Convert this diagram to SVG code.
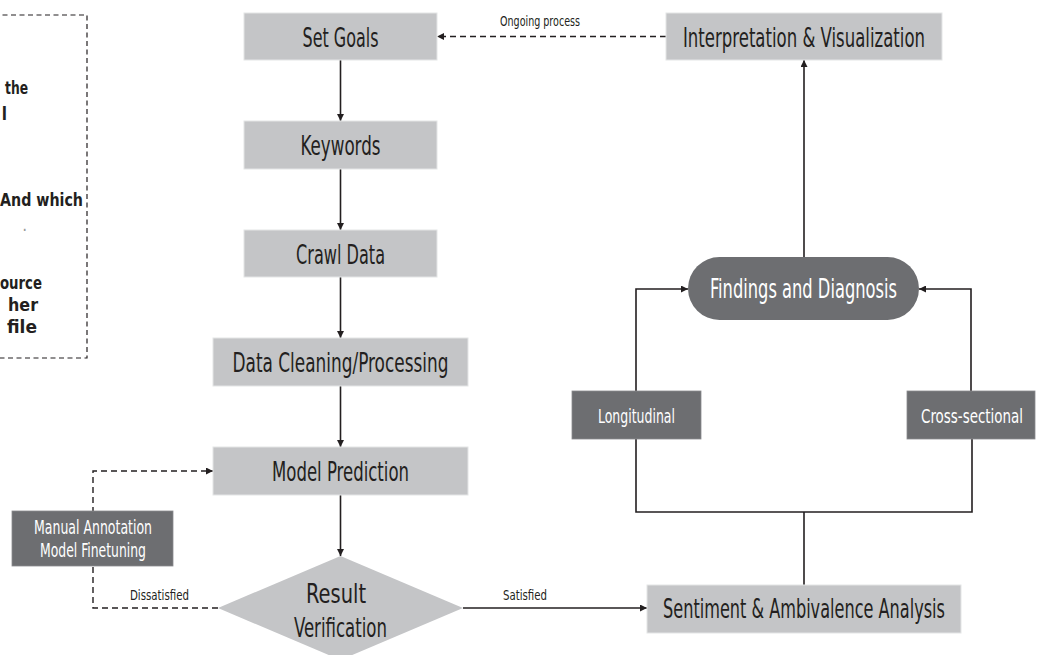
<svg xmlns="http://www.w3.org/2000/svg" width="1040" height="655" viewBox="0 0 1040 655">
  <style>
    .box { fill: #c4c5c7; stroke: #e4e5e6; stroke-width: 1; }
    .dark { fill: #6d6e71; stroke: #8a8b8e; stroke-width: 0.8; }
    .lbl { font-family: "DejaVu Sans Condensed", "DejaVu Sans", sans-serif; font-stretch: condensed; fill: #231f20; text-anchor: middle; }
    .big { font-size: 27px; }
    .mid { font-size: 19px; }
    .small { font-size: 14px; }
    .white { fill: #ffffff; }
    .note { font-family: "DejaVu Sans Condensed", "DejaVu Sans", sans-serif; font-stretch: condensed; font-weight: bold; font-size: 17px; fill: #231f20; text-anchor: end; }
    .line { fill: none; stroke: #231f20; stroke-width: 1.6; }
    .dash { fill: none; stroke: #231f20; stroke-width: 1.4; stroke-dasharray: 6 4; }
  </style>
  <defs>
    <marker id="arrow" viewBox="0 0 10 10" refX="10" refY="5" markerWidth="7" markerHeight="7" markerUnits="userSpaceOnUse" orient="auto">
      <path d="M0,0 L10,5 L0,10 z" fill="#231f20"/>
    </marker>
  </defs>
  <rect width="1040" height="655" fill="#ffffff"/>

  <!-- note box at the top left, clipped by the page edge -->
  <g id="note">
    <rect x="-40" y="15" width="127" height="343" fill="none" stroke="#231f20" stroke-width="1.2" stroke-dasharray="5 3.5"/>
    <text class="note" x="28" y="94" textLength="23" lengthAdjust="spacingAndGlyphs">the</text>
    <text class="note" x="7" y="120">l</text>
    <text class="note" x="83" y="206" textLength="83" lengthAdjust="spacingAndGlyphs">And which</text>
    <text class="note" x="27" y="231" style="font-weight:normal;fill:#9a9a9a">.</text>
    <text class="note" x="42" y="289" textLength="42" lengthAdjust="spacingAndGlyphs">ource</text>
    <text class="note" x="38" y="311" textLength="30" lengthAdjust="spacingAndGlyphs">her</text>
    <text class="note" x="37" y="333" textLength="30" lengthAdjust="spacingAndGlyphs">file</text>
  </g>

  <!-- connectors -->
  <g id="connectors">
    <path class="line" d="M340.5,60 V121" marker-end="url(#arrow)"/>
    <path class="line" d="M340.5,169 V230" marker-end="url(#arrow)"/>
    <path class="line" d="M340.5,277 V338" marker-end="url(#arrow)"/>
    <path class="line" d="M340.5,386 V447" marker-end="url(#arrow)"/>
    <path class="line" d="M340.5,495 V556" marker-end="url(#arrow)"/>
    <path class="line" d="M463,608 H647" marker-end="url(#arrow)"/>
    <path class="dash" d="M218,608 H93 V471 H213" marker-end="url(#arrow)"/>
    <path class="line" d="M804,585 V512"/>
    <path class="line" d="M636,439 V512 H972 V439"/>
    <path class="line" d="M636,391 V289 H688" marker-end="url(#arrow)"/>
    <path class="line" d="M971,391 V289 H919" marker-end="url(#arrow)"/>
    <path class="line" d="M804,257 V60" marker-end="url(#arrow)"/>
    <path class="dash" d="M666,36.5 H437" marker-end="url(#arrow)"/>
    <text class="lbl small" x="540" y="26" textLength="80" lengthAdjust="spacingAndGlyphs">Ongoing process</text>
    <text class="lbl small" x="159.5" y="600" textLength="59" lengthAdjust="spacingAndGlyphs">Dissatisfied</text>
    <text class="lbl small" x="525" y="600" textLength="44" lengthAdjust="spacingAndGlyphs">Satisfied</text>
  </g>

  <g id="set-goals">
    <rect class="box" x="244" y="13" width="193" height="47"/>
    <text class="lbl big" x="340.5" y="46.5" textLength="76" lengthAdjust="spacingAndGlyphs">Set Goals</text>
  </g>
  <g id="keywords">
    <rect class="box" x="244" y="121" width="193" height="48"/>
    <text class="lbl big" x="340.5" y="155" textLength="80" lengthAdjust="spacingAndGlyphs">Keywords</text>
  </g>
  <g id="crawl-data">
    <rect class="box" x="244" y="230" width="193" height="47"/>
    <text class="lbl big" x="340.5" y="263.5" textLength="89" lengthAdjust="spacingAndGlyphs">Crawl Data</text>
  </g>
  <g id="data-cleaning">
    <rect class="box" x="213" y="338" width="255" height="48"/>
    <text class="lbl big" x="340.5" y="372" textLength="216" lengthAdjust="spacingAndGlyphs">Data Cleaning/Processing</text>
  </g>
  <g id="model-prediction">
    <rect class="box" x="213" y="447" width="255" height="48"/>
    <text class="lbl big" x="340.5" y="481" textLength="137" lengthAdjust="spacingAndGlyphs">Model Prediction</text>
  </g>
  <g id="result-verification">
    <polygon points="340.5,556 463,608 340.5,660 218,608" fill="#c4c5c7"/>
    <text class="lbl big" x="336" y="603" textLength="60" lengthAdjust="spacingAndGlyphs">Result</text>
    <text class="lbl big" x="340.5" y="637" textLength="93" lengthAdjust="spacingAndGlyphs">Verification</text>
  </g>
  <g id="manual-annotation">
    <rect class="dark" x="12" y="511" width="161" height="55"/>
    <text class="lbl mid white" x="93" y="534" textLength="118" lengthAdjust="spacingAndGlyphs">Manual Annotation</text>
    <text class="lbl mid white" x="93" y="557" textLength="106" lengthAdjust="spacingAndGlyphs">Model Finetuning</text>
  </g>
  <g id="sentiment-analysis">
    <rect class="box" x="647" y="585" width="314" height="48"/>
    <text class="lbl big" x="804" y="618" textLength="282" lengthAdjust="spacingAndGlyphs">Sentiment &amp; Ambivalence Analysis</text>
  </g>
  <g id="longitudinal">
    <rect class="dark" x="572" y="391" width="129" height="48"/>
    <text class="lbl mid white" x="636.5" y="423" textLength="77" lengthAdjust="spacingAndGlyphs">Longitudinal</text>
  </g>
  <g id="cross-sectional">
    <rect class="dark" x="907" y="391" width="128" height="48"/>
    <text class="lbl mid white" x="972" y="423" textLength="102" lengthAdjust="spacingAndGlyphs">Cross-sectional</text>
  </g>
  <g id="findings">
    <rect x="688" y="257" width="231" height="63" rx="31.5" fill="#6d6e71"/>
    <text class="lbl big white" x="803.5" y="298" textLength="187" lengthAdjust="spacingAndGlyphs">Findings and Diagnosis</text>
  </g>
  <g id="interpretation">
    <rect class="box" x="666" y="13" width="276" height="47"/>
    <text class="lbl big" x="804" y="46.5" textLength="242" lengthAdjust="spacingAndGlyphs">Interpretation &amp; Visualization</text>
  </g>
</svg>
